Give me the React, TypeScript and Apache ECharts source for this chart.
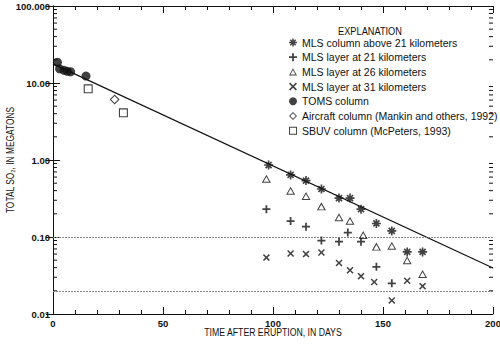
import React, { useEffect, useRef } from "react";
import * as echarts from "echarts";

const FONT = '"Liberation Sans Narrow", "Arial Narrow", "Liberation Sans", sans-serif';
const INK = "#111";

// TOMS column
const tomsDays = [2, 3, 5, 6.5, 8, 15];
const tomsVals = [18.6, 15.3, 14.6, 14.2, 14.0, 12.3];
// SBUV column
const sbuvDays = [16, 32];
const sbuvVals = [8.4, 4.1];
// Aircraft column
const airDays = [28];
const airVals = [6.1];
// MLS column above 21 km
const colDays = [98, 108, 115, 122, 130, 135, 140, 147, 154, 161, 168];
const colVals = [0.86, 0.64, 0.54, 0.42, 0.32, 0.32, 0.23, 0.15, 0.12, 0.064, 0.064];
// MLS layer at 21 km
const l21Days = [97, 108, 115, 122, 130, 134, 140, 147, 154];
const l21Vals = [0.23, 0.161, 0.136, 0.09, 0.087, 0.114, 0.087, 0.041, 0.025];
// MLS layer at 26 km
const l26Days = [97, 108, 115, 122, 130, 135, 141, 147, 154, 161, 168];
const l26Vals = [0.57, 0.4, 0.34, 0.25, 0.18, 0.163, 0.106, 0.075, 0.077, 0.05, 0.033];
// MLS layer at 31 km
const l31Days = [97, 108, 115, 122, 130, 135, 140, 146, 154, 161, 168];
const l31Vals = [0.054, 0.061, 0.06, 0.063, 0.046, 0.037, 0.031, 0.026, 0.015, 0.027, 0.023];
// fitted decay line
const fitDays = [0, 200];
const fitVals = [17.7, 0.0395];
// horizontal reference levels
const refLevels = [0.1, 0.02];

const yTickLabels: Record<string, string> = {
  "0.01": "0.01",
  "0.1": "0.10",
  "1": "1.00",
  "10": "10.00",
  "100": "100.000",
};
const decades = [0.01, 0.1, 1, 10];
const minorMultipliers = [2, 3, 4, 5, 6, 7, 8, 9];

const names = [
  "MLS column above 21 kilometers",
  "MLS layer at 21 kilometers",
  "MLS layer at 26 kilometers",
  "MLS layer at 31 kilometers",
  "TOMS column",
  "Aircraft column (Mankin and others, 1992)",
  "SBUV column (McPeters, 1993)",
];
const xTitle = "TIME AFTER ERUPTION, IN DAYS";
const yTitle = "TOTAL SO\u2082, IN MEGATONS";
const legendTitle = "EXPLANATION";

const PLUS = "path://M3.9,0 L6.1,0 L6.1,3.9 L10,3.9 L10,6.1 L6.1,6.1 L6.1,10 L3.9,10 L3.9,6.1 L0,6.1 L0,3.9 L3.9,3.9 Z";
const XMARK =
  "path://M0,1.5 L1.5,0 L5,3.5 L8.5,0 L10,1.5 L6.5,5 L10,8.5 L8.5,10 L5,6.5 L1.5,10 L0,8.5 L3.5,5 Z";
const STAR =
  "path://M4.1,0 L5.9,0 L5.9,4.1 L10,4.1 L10,5.9 L5.9,5.9 L5.9,10 L4.1,10 L4.1,5.9 L0,5.9 L0,4.1 L4.1,4.1 Z M1,2.3 L2.3,1 L5,3.7 L7.7,1 L9,2.3 L6.3,5 L9,7.7 L7.7,9 L5,6.3 L2.3,9 L1,7.7 L3.7,5 Z";
const TRI = "path://M5,0 L10,9 L0,9 Z M5,2.27 L1.87,7.9 L8.13,7.9 Z";
const DIAM = "path://M5,0 L10,5 L5,10 L0,5 Z M5,1.5 L1.5,5 L5,8.5 L8.5,5 Z";
const SQR = "path://M0,0 L10,0 L10,10 L0,10 Z M1.2,1.2 L1.2,8.8 L8.8,8.8 L8.8,1.2 Z";

const zip = (a: number[], b: number[]) => a.map((d, i) => [d, b[i]]);

export default function App() {
  const ref = useRef<HTMLDivElement>(null);
  useEffect(() => {
    const chart = echarts.init(ref.current!, null, { renderer: "svg" });
    const minorTicks: number[][] = [];
    decades.forEach((d) => minorMultipliers.forEach((m) => minorTicks.push([0, +(d * m).toPrecision(3)])));

    const axisCommon = {
      axisLine: { lineStyle: { color: INK, width: 1 } },
      splitLine: { show: false },
    };
    const labelStyle = { color: INK, fontSize: 9.5, fontFamily: FONT, fontWeight: "bold" as const };

    const scatter = (name: string, days: number[], vals: number[], symbol: string, size: any) => ({
      type: "scatter",
      name,
      data: zip(days, vals),
      symbol,
      symbolSize: size,
      itemStyle: { color: INK },
      z: 5,
    });

    chart.setOption({
      animation: false,
      backgroundColor: "#fff",
      grid: { left: 53, top: 6, width: 440, height: 308, containLabel: false, outerBoundsMode: "none" },
      xAxis: [
        {
          type: "value",
          min: 0,
          max: 200,
          interval: 50,
          position: "bottom",
          ...axisCommon,
          axisTick: { inside: true, length: 7, lineStyle: { color: INK } },
          minorTick: { show: true, splitNumber: 5, length: 4, lineStyle: { color: INK } },
          axisLabel: { ...labelStyle, margin: 4 },
        },
        {
          type: "value",
          min: 0,
          max: 200,
          interval: 50,
          position: "top",
          ...axisCommon,
          axisTick: { inside: true, length: 7, lineStyle: { color: INK } },
          minorTick: { show: true, splitNumber: 5, length: 4, lineStyle: { color: INK } },
          axisLabel: { show: false },
        },
      ],
      yAxis: [
        {
          type: "log",
          logBase: 10,
          min: 0.01,
          max: 100,
          position: "left",
          ...axisCommon,
          axisTick: { inside: true, length: 7, lineStyle: { color: INK } },
          axisLabel: {
            ...labelStyle,
            margin: 3,
            formatter: (v: number) => yTickLabels[String(+v.toPrecision(3))] ?? String(v),
          },
        },
        {
          type: "log",
          logBase: 10,
          min: 0.01,
          max: 100,
          position: "right",
          ...axisCommon,
          axisTick: { inside: true, length: 7, lineStyle: { color: INK } },
          axisLabel: { show: false },
        },
      ],
      legend: {
        data: names,
        orient: "vertical",
        left: 289,
        top: 37,
        itemWidth: 8,
        itemHeight: 8,
        itemGap: 3.7,
        padding: 0,
        textStyle: { color: INK, fontSize: 10.5, fontFamily: FONT, lineHeight: 10 },
      },
      graphic: [
        {
          type: "text",
          x: 370,
          y: 31,
          scaleX: 0.88,
          style: {
            text: legendTitle,
            fill: INK,
            font: `10.5px ${FONT}`,
            textAlign: "center",
            textVerticalAlign: "middle",
          },
        },
        {
          type: "text",
          x: 273,
          y: 333,
          scaleX: 0.87,
          style: {
            text: xTitle,
            fill: INK,
            font: `10px ${FONT}`,
            textAlign: "center",
            textVerticalAlign: "middle",
          },
        },
        {
          type: "text",
          x: 11,
          y: 160,
          rotation: Math.PI / 2,
          scaleX: 0.84,
          style: {
            text: yTitle,
            fill: INK,
            font: `10px ${FONT}`,
            textAlign: "center",
            textVerticalAlign: "middle",
          },
        },
      ],
      series: [
        {
          type: "line",
          name: "fit",
          data: zip(fitDays, fitVals),
          showSymbol: false,
          lineStyle: { color: INK, width: 1.2 },
          z: 3,
          markLine: {
            symbol: "none",
            silent: true,
            label: { show: false },
            lineStyle: { color: "#888", width: 1.2, type: [2, 1] },
            data: refLevels.map((v) => ({ yAxis: v })),
          },
        },
        {
          type: "custom",
          name: "minorTicks",
          silent: true,
          data: minorTicks,
          renderItem: (params: any, api: any) => {
            const v = api.value(1);
            const p0 = api.coord([0, v]);
            const p1 = api.coord([200, v]);
            return {
              type: "group",
              children: [
                { type: "line", shape: { x1: p0[0], y1: p0[1], x2: p0[0] + 4, y2: p0[1] }, style: { stroke: INK, lineWidth: 1 } },
                { type: "line", shape: { x1: p1[0] - 4, y1: p1[1], x2: p1[0], y2: p1[1] }, style: { stroke: INK, lineWidth: 1 } },
              ],
            };
          },
        },
        scatter(names[0], colDays, colVals, STAR, 9),
        scatter(names[1], l21Days, l21Vals, PLUS, 8),
        scatter(names[2], l26Days, l26Vals, TRI, [9, 8]),
        scatter(names[3], l31Days, l31Vals, XMARK, 7),
        scatter(names[4], tomsDays, tomsVals, "circle", 9),
        scatter(names[5], airDays, airVals, DIAM, 10),
        scatter(names[6], sbuvDays, sbuvVals, SQR, 9),
      ],
    });
    return () => chart.dispose();
  }, []);
  return <div ref={ref} style={{ position: "fixed", left: 0, top: 0, width: 500, height: 345, background: "#fff" }} />;
}
